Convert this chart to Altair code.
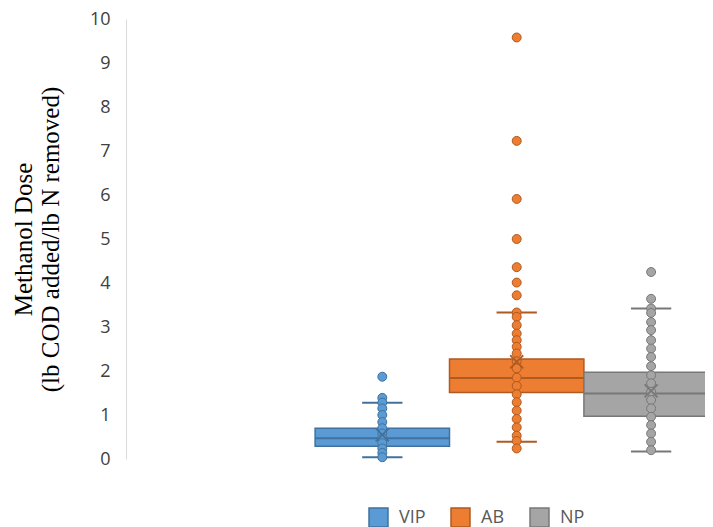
import altair as alt
import pandas as pd

# ---- data ----
groups = ["VIP", "AB", "NP"]
q1 = [0.29, 1.51, 0.97]
median = [0.47, 1.84, 1.49]
q3 = [0.70, 2.27, 1.97]
whisker_lo = [0.04, 0.39, 0.17]
whisker_hi = [1.28, 3.33, 3.42]
means = [0.55, 2.21, 1.55]

vip_points = [1.87, 1.39, 1.28, 1.15, 1.00, 0.84, 0.70, 0.58, 0.47, 0.36, 0.24, 0.14, 0.04]
ab_points = [9.58, 7.23, 5.91, 5.00, 4.36, 4.01, 3.72, 3.33, 3.23, 3.04, 2.85, 2.70,
             2.55, 2.40, 2.22, 2.06, 1.85, 1.66, 1.47, 1.29, 1.10, 0.91, 0.72,
             0.53, 0.41, 0.24]
np_points = [4.25, 3.64, 3.42, 3.32, 3.11, 2.93, 2.70, 2.51, 2.32, 2.11, 1.90, 1.72,
             1.53, 1.34, 1.15, 0.96, 0.77, 0.58, 0.39, 0.20]

fills = ["#5B9BD5", "#ED7D31", "#A5A5A5"]
strokes = ["#41719C", "#AE5A21", "#787878"]

stats = pd.DataFrame({
    "group": groups, "idx": list(range(len(groups))),
    "q1": q1, "median": median, "q3": q3,
    "lo": whisker_lo, "hi": whisker_hi, "mean": means,
})
pts = pd.DataFrame(
    [{"group": g, "idx": i, "value": v}
     for i, (g, vals) in enumerate(zip(groups, [vip_points, ab_points, np_points]))
     for v in vals]
)

xs = alt.Scale(domain=[-1.907, 2.401], nice=False, zero=False)
ys = alt.Scale(domain=[0, 10], nice=False)
fill_scale = alt.Scale(domain=groups, range=fills)
stroke_scale = alt.Scale(domain=groups, range=strokes)

legend = alt.Legend(
    orient="none", legendX=242, legendY=488, direction="horizontal", title=None,
    symbolType="square", symbolSize=360, symbolStrokeWidth=1.5,
    labelFont="Open Sans", labelFontSize=18, labelColor="#595959",
    columnPadding=22, labelOffset=10, padding=0,
)

yaxis = alt.Axis(
    values=list(range(0, 11)), grid=False, ticks=False,
    domainColor="#D9D9D9", domainWidth=1,
    labelFont="Open Sans", labelFontSize=18, labelColor="#404040", labelPadding=16,
    title=["Methanol Dose", "(lb COD added/lb N removed)"],
    titleFont="Liberation Serif", titleFontSize=25, titleFontWeight="normal",
    titleColor="#000000", titlePadding=26, titleLineHeight=27,
)

base_stats = alt.Chart(stats).transform_calculate(
    xl="datum.idx - 0.5", xr="datum.idx + 0.5",
    cl="datum.idx - 0.15", cr="datum.idx + 0.15",
)

box = base_stats.mark_bar(clip=True, strokeWidth=1.5).encode(
    x=alt.X("xl:Q", scale=xs, axis=None),
    x2="xr:Q",
    y=alt.Y("q1:Q", scale=ys, axis=yaxis),
    y2="q3:Q",
    fill=alt.Fill("group:N", scale=fill_scale, legend=legend, sort=groups),
    stroke=alt.Stroke("group:N", scale=stroke_scale, legend=legend, sort=groups),
)

med = base_stats.mark_rule(clip=True, strokeWidth=2).encode(
    x=alt.X("xl:Q", scale=xs, axis=None), x2="xr:Q",
    y=alt.Y("median:Q", scale=ys),
    stroke=alt.Stroke("group:N", scale=stroke_scale, legend=None),
)

whisk = base_stats.mark_rule(strokeWidth=1.5).encode(
    x=alt.X("idx:Q", scale=xs, axis=None),
    y=alt.Y("lo:Q", scale=ys), y2="hi:Q",
    stroke=alt.Stroke("group:N", scale=stroke_scale, legend=None),
)

cap_lo = base_stats.mark_rule(strokeWidth=2).encode(
    x=alt.X("cl:Q", scale=xs, axis=None), x2="cr:Q",
    y=alt.Y("lo:Q", scale=ys),
    stroke=alt.Stroke("group:N", scale=fill_scale, legend=None),
)
cap_hi = base_stats.mark_rule(strokeWidth=2).encode(
    x=alt.X("cl:Q", scale=xs, axis=None), x2="cr:Q",
    y=alt.Y("hi:Q", scale=ys),
    stroke=alt.Stroke("group:N", scale=fill_scale, legend=None),
)

points = alt.Chart(pts).mark_circle(size=80, opacity=1, strokeWidth=1).encode(
    x=alt.X("idx:Q", scale=xs, axis=None),
    y=alt.Y("value:Q", scale=ys),
    fill=alt.Fill("group:N", scale=fill_scale, legend=None),
    stroke=alt.Stroke("group:N", scale=stroke_scale, legend=None),
)

mean_mark = base_stats.mark_point(
    shape="M-1,-1L1,1M1,-1L-1,1", size=170, filled=False, strokeWidth=1.8, opacity=1
).encode(
    x=alt.X("idx:Q", scale=xs, axis=None),
    y=alt.Y("mean:Q", scale=ys),
    stroke=alt.Stroke("group:N", scale=stroke_scale, legend=None),
)

chart = alt.layer(box, med, whisk, cap_lo, cap_hi, points, mean_mark).properties(
    width=579, height=440,
    padding={"left": 118, "top": 11, "right": 0, "bottom": 68},
    autosize=alt.AutoSizeParams(type="none"),
    background="white",
).configure_view(stroke=None)

chart.save("out.html", embed_options={"renderer": "svg", "actions": False})
